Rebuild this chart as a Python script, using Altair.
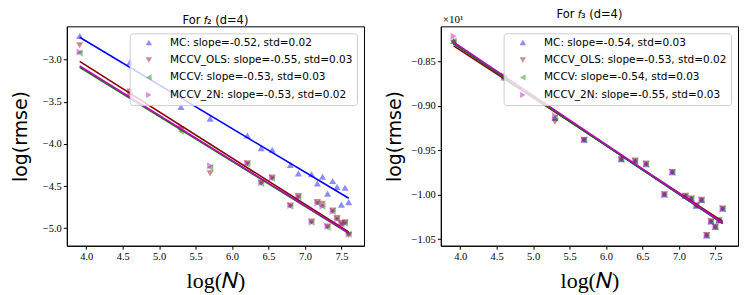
import altair as alt
import pandas as pd

# ---- data ----
log_n = [3.91, 4.60, 5.30, 5.70, 6.21, 6.40, 6.55, 6.80, 6.91, 7.09,
         7.17, 7.24, 7.31, 7.38, 7.44, 7.50, 7.55, 7.60]

methods = ["MC", "MCCV_OLS", "MCCV", "MCCV_2N"]

f2_labels = ["MC: slope=-0.52, std=0.02", "MCCV_OLS: slope=-0.55, std=0.03",
             "MCCV: slope=-0.53, std=0.03", "MCCV_2N: slope=-0.53, std=0.02"]
f3_labels = ["MC: slope=-0.54, std=0.03", "MCCV_OLS: slope=-0.53, std=0.02",
             "MCCV: slope=-0.54, std=0.03", "MCCV_2N: slope=-0.55, std=0.03"]

f2_mc = [-2.72, -3.03, -3.56, -3.70, -3.90, -4.05, -4.07, -4.25, -4.35, -4.36,
         -4.47, -4.39, -4.59, -4.44, -4.51, -4.72, -4.52, -4.69]
f2_ols = [-2.83, -3.38, -3.83, -4.35, -4.23, -4.46, -4.40, -4.73, -4.62, -4.92,
          -4.69, -4.71, -4.98, -4.79, -4.88, -4.94, -4.93, -5.08]
f2_mccv = [-2.92, -3.42, -3.85, -4.28, -4.24, -4.47, -4.41, -4.74, -4.63, -4.93,
           -4.70, -4.74, -4.99, -4.80, -4.89, -4.95, -4.94, -5.07]
f2_2n = [-2.91, -3.40, -3.80, -4.26, -4.23, -4.46, -4.40, -4.73, -4.63, -4.93,
         -4.70, -4.74, -4.98, -4.80, -4.89, -4.95, -4.94, -5.07]

f3_mc = [-8.27, -8.68, -9.135, -9.38, -9.60, -9.62, -9.655, -9.997, -9.745, -10.015,
         -10.045, -10.124, -10.06, -10.457, -10.30, -10.363, -10.29, -10.157]
f3_ols = [-8.29, -8.69, -9.18, -9.385, -9.60, -9.615, -9.65, -9.995, -9.745, -10.012,
          -10.043, -10.12, -10.058, -10.455, -10.298, -10.36, -10.288, -10.155]
f3_mccv = [-8.27, -8.68, -9.135, -9.38, -9.602, -9.622, -9.657, -9.998, -9.747, -10.016,
           -10.046, -10.125, -10.061, -10.458, -10.301, -10.364, -10.291, -10.158]
f3_2n = [-8.217, -8.66, -9.11, -9.378, -9.598, -9.62, -9.655, -9.996, -9.745, -10.014,
         -10.044, -10.123, -10.06, -10.456, -10.30, -10.362, -10.29, -10.156]

# fitted lines: value at first and last log(N)
f2_fit_start = [-2.735, -3.02, -3.09, -3.075]
f2_fit_end = [-4.645, -5.045, -5.06, -5.055]
f3_fit_start = [-8.30, -8.325, -8.30, -8.284]
f3_fit_end = [-10.322, -10.30, -10.322, -10.315]

x_ticks = [4.0, 4.5, 5.0, 5.5, 6.0, 6.5, 7.0, 7.5]
f2_y_ticks = [-3.0, -3.5, -4.0, -4.5, -5.0]
f3_y_ticks = [-8.5, -9.0, -9.5, -10.0, -10.5]

colors = ["#0000ff", "#8b0000", "#008000", "#bf00bf"]
shapes = ["triangle-up", "triangle-down", "triangle-left", "triangle-right"]

SANS = "DejaVu Sans"
SERIF = "Liberation Serif"


def panel(title, series, labels, fit_start, fit_end, ydomain, yticks, label_expr,
          y_title_pad, title_offset, offset_text=None):
    rows = []
    for m, lab, vals in zip(methods, labels, series):
        for x, y in zip(log_n, vals):
            rows.append({"method": m, "label": lab, "x": x, "y": y})
    pts = pd.DataFrame(rows)
    lrows = []
    for i, (m, s, e) in enumerate(zip(methods, fit_start, fit_end)):
        lrows.append({"method": m, "order": i, "x": log_n[0], "y": s})
        lrows.append({"method": m, "order": i, "x": log_n[-1], "y": e})
    lines = pd.DataFrame(lrows)

    xscale = alt.Scale(domain=[3.734, 7.81], nice=False, zero=False)
    yscale = alt.Scale(domain=ydomain, nice=False, zero=False)
    xaxis = alt.Axis(values=x_ticks, format=".1f", title="log(𝑁)",
                     titleFont=SERIF, titleFontSize=22, titlePadding=9)
    yaxis = alt.Axis(values=yticks, labelExpr=label_expr, title="log(rmse)",
                     titleFont=SANS, titleFontSize=19, titlePadding=y_title_pad)
    legend = alt.Legend(title=None, orient="top-right", offset=7,
                        fillColor="rgba(255,255,255,0.8)", strokeColor="#cccccc",
                        cornerRadius=3, padding=4, labelFont=SANS, labelFontSize=10.5,
                        labelColor="black", symbolSize=40, symbolOpacity=0.45,
                        symbolStrokeWidth=0, rowPadding=6.5, labelOffset=16,
                        symbolOffset=10, labelLimit=400)
    points = alt.Chart(pts).mark_point(filled=True, opacity=0.45, size=50).encode(
        x=alt.X("x:Q", scale=xscale, axis=xaxis),
        y=alt.Y("y:Q", scale=yscale, axis=yaxis),
        color=alt.Color("label:N", scale=alt.Scale(domain=labels, range=colors),
                        legend=legend),
        shape=alt.Shape("label:N", scale=alt.Scale(domain=labels, range=shapes),
                        legend=legend),
    )
    fit = alt.Chart(lines).mark_line(strokeWidth=1.6).encode(
        x="x:Q",
        y="y:Q",
        stroke=alt.Stroke("method:N", scale=alt.Scale(domain=methods, range=colors),
                          legend=None),
        detail="method:N",
    )
    layers = [points, fit]
    if offset_text is not None:
        ann = alt.Chart(pd.DataFrame({"t": [offset_text]})).mark_text(
            font=SERIF, fontSize=11, align="left", baseline="middle", color="black"
        ).encode(text="t:N", x=alt.value(2), y=alt.value(-6))
        layers.append(ann)
    return alt.layer(*layers).properties(
        width=298, height=220,
        title=alt.TitleParams(title, font=SANS, fontSize=11.5, fontWeight="normal",
                              offset=title_offset, color="black"),
    )


left = panel("For 𝑓₂ (d=4)", [f2_mc, f2_ols, f2_mccv, f2_2n], f2_labels,
             f2_fit_start, f2_fit_end, [-5.208, -2.605], f2_y_ticks,
             "format(datum.value, '.1f')", 12, 0)
right = panel("For 𝑓₃ (d=4)", [f3_mc, f3_ols, f3_mccv, f3_2n], f3_labels,
              f3_fit_start, f3_fit_end, [-10.574, -8.105], f3_y_ticks,
              "format(datum.value / 10, '.2f')", 7, -6, offset_text="×10¹")

chart = alt.hconcat(left, right, spacing=19).resolve_scale(
    color="independent", shape="independent", stroke="independent",
    x="independent", y="independent",
).resolve_legend(color="independent", shape="independent").properties(
    padding={"left": 2, "top": 0, "right": 0, "bottom": 0}
).configure_view(stroke="black", strokeWidth=1).configure_axis(
    grid=False, labelFont=SERIF, labelFontSize=10.5, labelColor="black",
    tickColor="black", domainColor="black", tickSize=3.5, labelPadding=2,
    titleFontWeight="normal", titleColor="black",
)

chart.save("out.html", embed_options={"renderer": "svg", "actions": False})
